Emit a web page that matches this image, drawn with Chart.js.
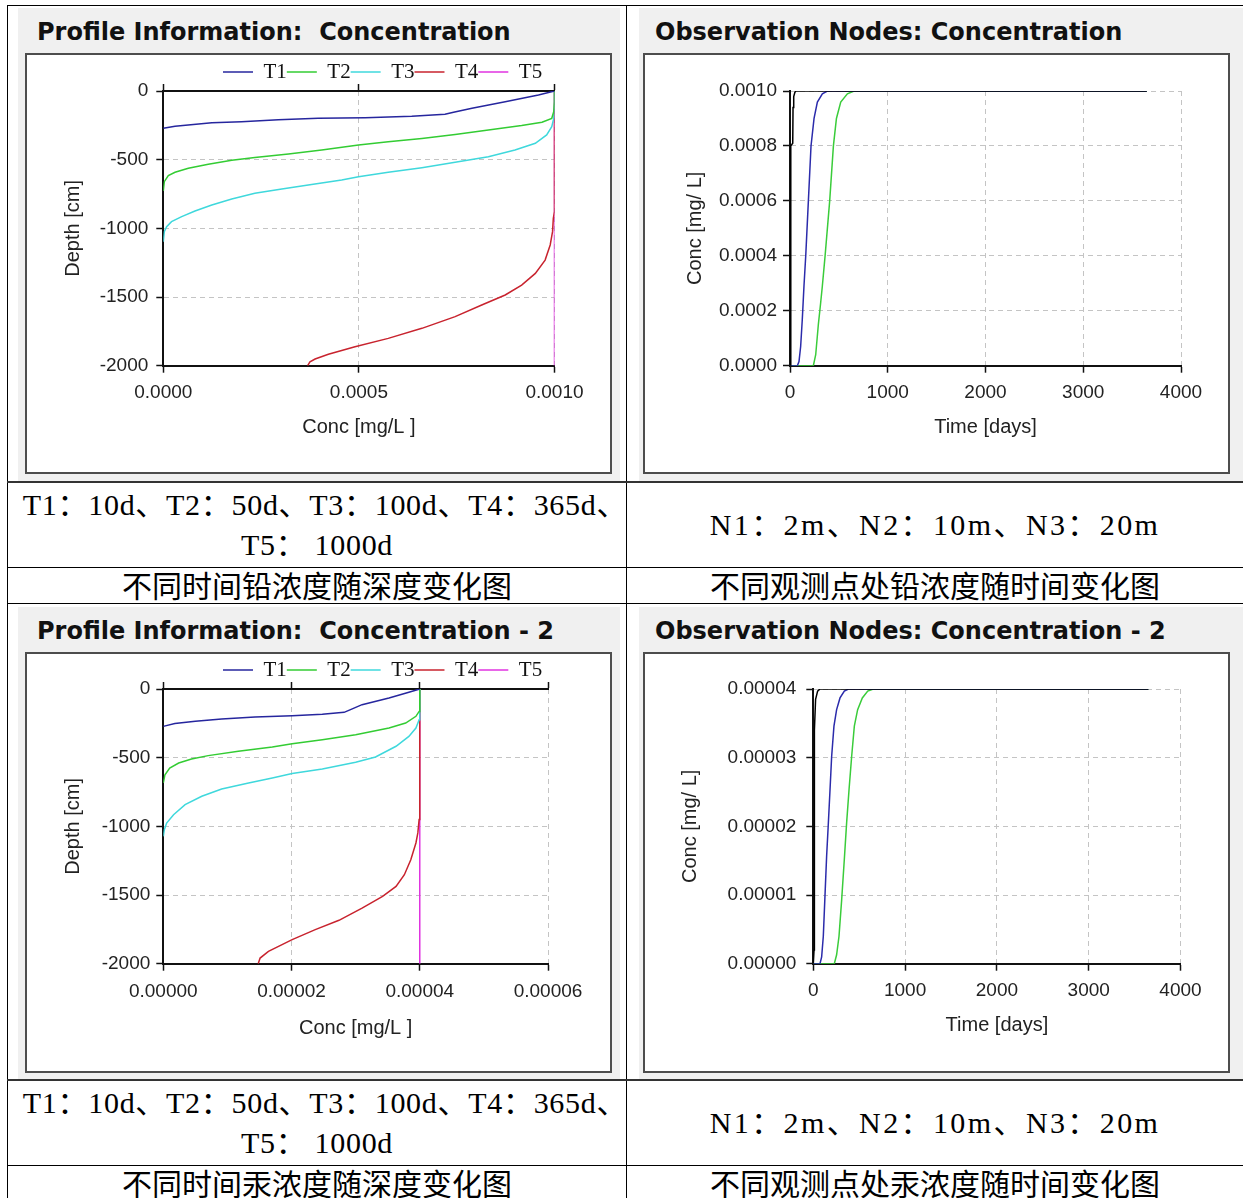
<!DOCTYPE html>
<html lang="zh-CN">
<head>
<meta charset="utf-8">
<title>铅、汞浓度变化图</title>
<script src="https://cdn.jsdelivr.net/npm/chart.js@4.4.1/dist/chart.umd.min.js"></script>
<style>
  html, body { margin: 0; padding: 0; background: #fff; }
  body { position: relative; width: 1243px; height: 1198px; overflow: hidden; }
  .rule  { position: absolute; background: #000; }
  .shot  { position: absolute; background: #f0f0f0; }
  .title { position: absolute; white-space: pre; font: bold 24px/24px "DejaVu Sans", sans-serif; color: #111; }
  .frame { position: absolute; width: 583px; height: 417px; border: 2px solid #4d4d4d; background: #fff; }
  .frame div { position: relative; width: 583px; height: 417px; }
  .cell  { position: absolute; text-align: center; color: #000; white-space: pre; }
  .note  { font: 30px/40px "Liberation Serif", "Noto Sans CJK SC", serif; letter-spacing: 0.7px; }
  .note.wide { letter-spacing: 2.4px; }
  .cap   { font: 30px/36px "Noto Sans CJK SC", sans-serif; }
</style>
</head>
<body>

<!-- table rules -->
<div class="rule" style="left:7px;top:5px;width:1236px;height:1px"></div>
<div class="rule" style="left:7px;top:5px;width:1px;height:1193px"></div>
<div class="rule" style="left:626px;top:5px;width:1px;height:1193px"></div>
<div class="rule" style="left:7px;top:481px;width:1236px;height:2px;background:#333"></div>
<div class="rule" style="left:7px;top:567px;width:1236px;height:1px"></div>
<div class="rule" style="left:7px;top:603px;width:1236px;height:1px"></div>
<div class="rule" style="left:7px;top:1079px;width:1236px;height:2px;background:#333"></div>
<div class="rule" style="left:7px;top:1165px;width:1236px;height:1px"></div>

<!-- chart screenshots -->
<div class="shot" style="left:18px;top:8px;width:602px;height:473px"></div>
<div class="title" style="left:37px;top:20px">Profile Information:  Concentration</div>
<div class="frame" style="left:25px;top:53px"><div><canvas id="pbProfile"></canvas></div></div>

<div class="shot" style="left:639px;top:8px;width:604px;height:473px"></div>
<div class="title" style="left:655px;top:20px">Observation Nodes: Concentration</div>
<div class="frame" style="left:643px;top:53px"><div><canvas id="pbNodes"></canvas></div></div>

<div class="shot" style="left:18px;top:607px;width:602px;height:472px"></div>
<div class="title" style="left:37px;top:619px">Profile Information:  Concentration - 2</div>
<div class="frame" style="left:25px;top:652px"><div><canvas id="hgProfile"></canvas></div></div>

<div class="shot" style="left:639px;top:607px;width:604px;height:472px"></div>
<div class="title" style="left:655px;top:619px">Observation Nodes: Concentration - 2</div>
<div class="frame" style="left:643px;top:652px"><div><canvas id="hgNodes"></canvas></div></div>

<!-- notes and captions -->
<div class="cell note" style="left:16px;top:485px;width:618px">T1：10d、T2：50d、T3：100d、T4：365d、</div>
<div class="cell note" style="left:8px;top:525px;width:618px">T5： 1000d</div>
<div class="cell note wide" style="left:627px;top:505px;width:616px">N1：2m、N2：10m、N3：20m</div>
<div class="cell cap" style="left:8px;top:566px;width:618px">不同时间铅浓度随深度变化图</div>
<div class="cell cap" style="left:627px;top:566px;width:616px">不同观测点处铅浓度随时间变化图</div>

<div class="cell note" style="left:16px;top:1083px;width:618px">T1：10d、T2：50d、T3：100d、T4：365d、</div>
<div class="cell note" style="left:8px;top:1123px;width:618px">T5： 1000d</div>
<div class="cell note wide" style="left:627px;top:1103px;width:616px">N1：2m、N2：10m、N3：20m</div>
<div class="cell cap" style="left:8px;top:1164px;width:618px">不同时间汞浓度随深度变化图</div>
<div class="cell cap" style="left:627px;top:1164px;width:616px">不同观测点处汞浓度随时间变化图</div>

<script>
// ---- tick values ----
const DEPTH_TICKS = [-2000, -1500, -1000, -500, 0];
const TIME_TICKS  = [0, 1000, 2000, 3000, 4000];
const PB_X_TICKS  = [0, 0.0005, 0.001];
const PB_C_TICKS  = [0, 0.0002, 0.0004, 0.0006, 0.0008, 0.001];
const HG_X_TICKS  = [0, 0.00002, 0.00004, 0.00006];
const HG_C_TICKS  = [0, 0.00001, 0.00002, 0.00003, 0.00004];

const PROFILE_LABELS = ['T1', 'T2', 'T3', 'T4', 'T5'];
const NODE_LABELS    = ['N1', 'N2', 'N3'];

// ---- lead profiles: [conc mg/L, depth cm] ----
const pbT1 = [[0,-272],[0.00003,-257],[0.000124,-231],[0.0002,-223],[0.000294,-209],[0.000396,-199],[0.000516,-194],
              [0.000635,-184],[0.00072,-170],[0.000742,-155],[0.000789,-126],[0.000874,-78],[0.000959,-29],[0.001,0]];
const pbT2 = [[0,-728],[0.0000026,-660],[0.0000128,-616],[0.00003,-592],[0.000064,-563],[0.000115,-534],[0.000175,-505],
              [0.000234,-485],[0.00032,-459],[0.000405,-430],[0.000499,-393],[0.000575,-369],[0.000661,-345],[0.000746,-316],
              [0.000831,-284],[0.000916,-252],[0.000968,-228],[0.000993,-199],[0.000998,-150],[0.001,-78],[0.001,0]];
const pbT3 = [[0,-1097],[0.0000026,-1024],[0.0000085,-988],[0.000021,-951],[0.000047,-915],[0.000081,-874],[0.000124,-830],
              [0.000175,-786],[0.000234,-745],[0.000303,-714],[0.000379,-680],[0.000456,-648],[0.000499,-624],[0.000575,-592],
              [0.000661,-558],[0.000746,-519],[0.000831,-478],[0.000899,-430],[0.000951,-381],[0.00098,-320],[0.000993,-260],
              [0.000998,-199],[0.001,-102],[0.001,0]];
const pbT4 = [[0.000369,-2000],[0.000375,-1971],[0.000388,-1951],[0.000422,-1917],[0.00049,-1862],[0.000575,-1801],
              [0.000661,-1728],[0.000746,-1643],[0.000814,-1558],[0.000874,-1485],[0.000916,-1413],[0.000951,-1328],
              [0.000976,-1231],[0.000989,-1121],[0.000995,-1024],[0.000997,-927],[0.001,-879],[0.001,0]];
const pbT5 = [[0.001,0],[0.001,-2000]];

// ---- lead observation nodes: [time d, conc mg/L] ----
const pbN1 = [[0,0],[5,0.00002],[9,0.0004],[10,0.0008],[28,0.00081],[31,0.00094],[38,0.00098],[50,0.000995],[60,0.001],[3650,0.001]];
const pbN2 = [[0,0],[75,0],[92,0.000015],[109,0.00007],[126,0.00017],[143,0.00029],[161,0.0004],[188,0.0006],[215,0.0008],
              [246,0.0009],[280,0.00096],[331,0.00099],[382,0.001],[3650,0.001]];
const pbN3 = [[0,0],[239,0],[263,0.00004],[290,0.00015],[314,0.00023],[331,0.00029],[359,0.0004],[406,0.0006],[444,0.0008],
              [475,0.0009],[519,0.00096],[587,0.00099],[656,0.001],[3650,0.001]];

// ---- mercury profiles ----
const hgT1 = [[0,-272],[0.0000018,-252],[0.000005,-235],[0.0000091,-218],[0.0000143,-204],[0.0000201,-194],[0.0000248,-184],
              [0.0000282,-170],[0.0000292,-150],[0.000031,-114],[0.0000352,-66],[0.0000383,-24],[0.00004,0]];
const hgT2 = [[0,-684],[0.00000026,-624],[0.000001,-575],[0.0000024,-539],[0.0000044,-510],[0.000007,-485],[0.0000117,-454],
              [0.000017,-422],[0.0000201,-398],[0.0000248,-369],[0.00003,-333],[0.0000352,-284],[0.0000378,-248],
              [0.0000394,-199],[0.0000399,-163],[0.00004,-102],[0.00004,0]];
const hgT3 = [[0,-1073],[0.00000016,-1024],[0.00000052,-976],[0.0000016,-915],[0.0000034,-842],[0.000006,-781],[0.0000091,-728],
              [0.0000133,-684],[0.000017,-648],[0.0000201,-616],[0.0000248,-582],[0.00003,-534],[0.0000331,-495],
              [0.0000363,-417],[0.0000383,-345],[0.0000394,-284],[0.0000399,-223],[0.00004,-102],[0.00004,0]];
const hgT4 = [[0.0000148,-2000],[0.0000151,-1959],[0.0000164,-1910],[0.0000201,-1825],[0.0000237,-1752],[0.0000274,-1684],
              [0.000031,-1595],[0.0000342,-1510],[0.0000363,-1437],[0.0000376,-1352],[0.0000386,-1243],[0.0000394,-1121],
              [0.0000397,-1048],[0.0000399,-951],[0.00004,-879],[0.00004,0]];
const hgT5 = [[0.00004,0],[0.00004,-2000]];

// ---- mercury observation nodes ----
const hgN1 = [[0,0],[8,0.000002],[12,0.000034],[25,0.0000385],[47,0.0000397],[73,0.00004],[3650,0.00004]];
const hgN2 = [[0,0],[73,0],[91,0.000001],[109,0.000004],[127,0.0000098],[145,0.0000156],[164,0.0000205],[182,0.0000253],
              [200,0.0000302],[225,0.0000346],[254,0.000037],[291,0.0000387],[338,0.0000397],[382,0.00004],[3650,0.00004]];
const hgN3 = [[0,0],[229,0],[254,0.0000013],[280,0.000004],[309,0.0000093],[338,0.0000152],[363,0.0000205],[389,0.0000253],
              [418,0.0000302],[447,0.0000346],[483,0.000037],[534,0.0000387],[593,0.0000397],[654,0.00004],[3650,0.00004]];

// ---- styling ----
const SANS  = '"Liberation Sans", Arial, sans-serif';
const SERIF = '"Liberation Serif", "Times New Roman", serif';
const PROFILE_COLORS = ['#26269e', '#33cc33', '#3fd8dc', '#c8232e', '#e033e0'];
const NODE_COLORS    = ['#000000', '#2b2bab', '#3acc3a'];

Chart.defaults.font.family = SANS;

// moves the legend to a fixed spot (HYDRUS puts it off-centre)
const legendPlace = {
  id: 'legendPlace',
  afterLayout(chart, args, opts) {
    const lg = chart.legend;
    if (!lg || opts.x == null) return;
    const w = lg.right - lg.left, h = lg.bottom - lg.top;
    lg.left = opts.x - opts.pad;
    lg.right = lg.left + w;
    lg.top = opts.y - opts.pad - opts.fs / 2;
    lg.bottom = lg.top + h;
  }
};

function buildChart(id, o) {
  const tickFont  = { family: SANS, size: 19 };
  const titleFont = { family: SANS, size: 20 };
  const grid   = { color: '#c4c4c4', tickColor: '#111', tickLength: 7, tickWidth: 1.5 };
  const border = { color: '#111', width: 2, dash: [5, 4] };
  const fixTicks = vals => s => { s.ticks = vals.map(v => ({ value: v })); };

  const scales = {
    x: {
      type: 'linear', position: 'bottom',
      min: o.xTicks[0], max: o.xTicks[o.xTicks.length - 1],
      afterBuildTicks: fixTicks(o.xTicks),
      afterFit: s => { s.height = o.xBox; },
      ticks: { padding: o.xTickPad, color: '#222', font: tickFont, maxRotation: 0, autoSkip: false,
               callback: v => v.toFixed(o.xDec) },
      grid, border,
      title: { display: true, text: o.xTitle, color: '#222', font: titleFont, padding: { top: 0, bottom: o.xTitlePad } }
    },
    y: {
      type: 'linear', position: 'left',
      min: o.yTicks[0], max: o.yTicks[o.yTicks.length - 1],
      afterBuildTicks: fixTicks(o.yTicks),
      afterFit: s => { s.width = o.yBox; },
      ticks: { padding: o.yTickPad, color: '#222', font: tickFont, autoSkip: false,
               callback: v => (o.yDec ? v.toFixed(o.yDec) : String(v)) },
      grid, border,
      title: { display: true, text: o.yTitle, color: '#222', font: titleFont, padding: { top: o.yTitlePad, bottom: 0 } }
    }
  };
  if (o.topAxis) {
    scales.x2 = {
      type: 'linear', position: 'top',
      min: o.xTicks[0], max: o.xTicks[o.xTicks.length - 1],
      afterBuildTicks: fixTicks(o.xTicks),
      afterFit: s => { s.height = 10; },
      ticks: { display: false },
      grid: { drawOnChartArea: false, tickColor: '#111', tickLength: 7, tickWidth: 1.5 },
      border: { color: '#111', width: 2 }
    };
  }

  return new Chart(document.getElementById(id), {
    type: 'scatter',
    data: {
      datasets: o.series.map((pts, i) => ({
        label: o.labels[i],
        data: pts.map(([x, y]) => ({ x, y })),
        borderColor: o.colors[i],
        backgroundColor: o.colors[i],
        borderWidth: 1.5,
        pointRadius: 0,
        showLine: true,
        fill: false,
        tension: 0
      }))
    },
    options: {
      responsive: true,
      maintainAspectRatio: false,
      animation: false,
      events: [],
      layout: { padding: { left: 0, top: 0, right: o.padR, bottom: 0 } },
      plugins: {
        tooltip: { enabled: false },
        legend: {
          position: 'top', align: 'start', maxHeight: o.legendH,
          labels: { usePointStyle: true, pointStyle: 'line', pointStyleWidth: 30, padding: o.legendPad,
                    color: '#111', font: { family: SERIF, size: 21 } }
        },
        legendPlace: { x: o.legendX, y: o.legendY, pad: o.legendPad, fs: 21 }
      },
      scales
    },
    plugins: [legendPlace]
  });
}

buildChart('pbProfile', {
  series: [pbT1, pbT2, pbT3, pbT4, pbT5], labels: PROFILE_LABELS, colors: PROFILE_COLORS,
  xTicks: PB_X_TICKS, xDec: 4, yTicks: DEPTH_TICKS, yDec: 0,
  xTitle: 'Conc [mg/L ]', yTitle: 'Depth [cm]', topAxis: true,
  yBox: 136.3, padR: 55.5, xBox: 106.3, legendH: 26,
  legendX: 196, legendY: 17, legendPad: 0,
  xTickPad: 9, yTickPad: 8, xTitlePad: 33, yTitlePad: 34
});

buildChart('pbNodes', {
  series: [pbN1, pbN2, pbN3], labels: NODE_LABELS, colors: NODE_COLORS,
  xTicks: TIME_TICKS, xDec: 0, yTicks: PB_C_TICKS, yDec: 4,
  xTitle: 'Time [days]', yTitle: 'Conc [mg/ L]', topAxis: false,
  yBox: 145, padR: 47, xBox: 106.3, legendH: 36,
  legendX: 196, legendY: 15, legendPad: 40,
  xTickPad: 9, yTickPad: 6, xTitlePad: 33, yTitlePad: 38
});

buildChart('hgProfile', {
  series: [hgT1, hgT2, hgT3, hgT4, hgT5], labels: PROFILE_LABELS, colors: PROFILE_COLORS,
  xTicks: HG_X_TICKS, xDec: 5, yTicks: DEPTH_TICKS, yDec: 0,
  xTitle: 'Conc [mg/L ]', yTitle: 'Depth [cm]', topAxis: true,
  yBox: 136.3, padR: 62, xBox: 107.3, legendH: 25,
  legendX: 196, legendY: 16, legendPad: 0,
  xTickPad: 9.5, yTickPad: 6, xTitlePad: 31, yTitlePad: 34.7
});

buildChart('hgNodes', {
  series: [hgN1, hgN2, hgN3], labels: NODE_LABELS, colors: NODE_COLORS,
  xTicks: TIME_TICKS, xDec: 0, yTicks: HG_C_TICKS, yDec: 5,
  xTitle: 'Time [days]', yTitle: 'Conc [mg/ L]', topAxis: false,
  yBox: 168.3, padR: 47.5, xBox: 107.3, legendH: 35,
  legendX: 221, legendY: 19, legendPad: 40,
  xTickPad: 8.6, yTickPad: 10, xTitlePad: 34, yTitlePad: 33
});
</script>
</body>
</html>
